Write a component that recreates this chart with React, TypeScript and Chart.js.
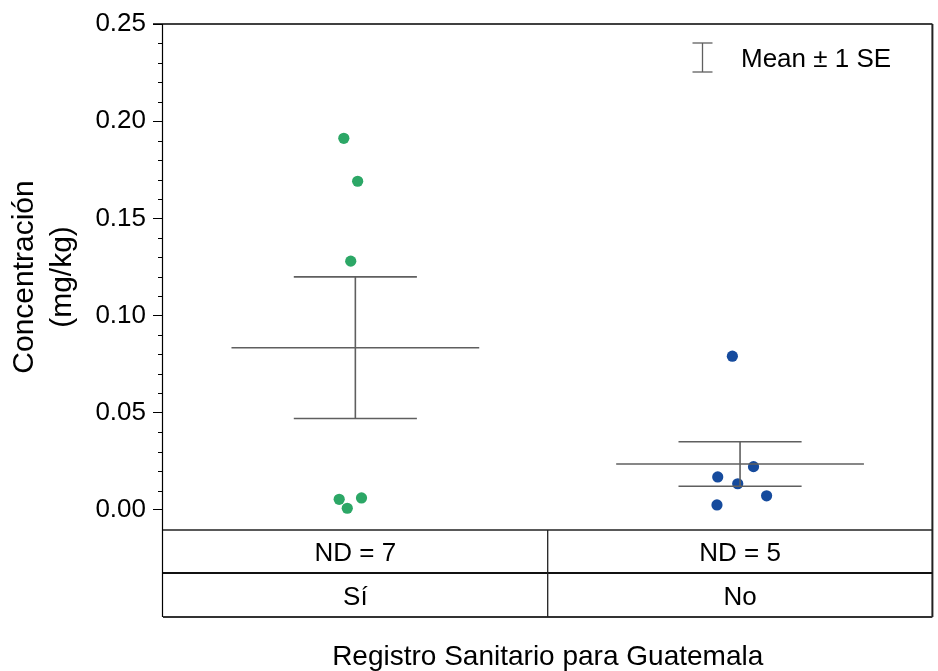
import { useEffect, useRef } from 'react';
import { Chart, registerables } from 'chart.js';

Chart.register(...registerables);

// ---------- data ----------
const categories = ['Sí', 'No'];
const ndLabels = ['ND = 7', 'ND = 5'];
const siValues = [0.1912, 0.1691, 0.128, 0.0055, 0.0062, 0.0009];
const siJitter = [-0.03, 0.006, -0.012, -0.042, 0.016, -0.021];
const noValues = [0.0791, 0.0223, 0.017, 0.0135, 0.0073, 0.0026];
const noJitter = [-0.02, 0.035, -0.058, -0.006, 0.069, -0.06];
const yTickValues = [0, 0.05, 0.1, 0.15, 0.2, 0.25];
const yMinorStep = 0.01;
const yTitle = ['Concentración', '(mg/kg)'];
const xTitle = 'Registro Sanitario para Guatemala';
const legendLabel = 'Mean ± 1 SE';
const pointColors = ['#2ca766', '#164b9d'];

// ---------- style ----------
const FONT = "'Liberation Sans', Arial, sans-serif";
const BAR_COLOR = '#5f5f5f';
const MEAN_HALF = 0.322;
const CAP_HALF = 0.16;
const ROW1 = 43;
const ROW2 = 44;

function stats(vals: number[]) {
  const n = vals.length;
  const m = vals.reduce((a, b) => a + b, 0) / n;
  const sd = Math.sqrt(vals.reduce((a, v) => a + (v - m) * (v - m), 0) / (n - 1));
  return { mean: m, se: sd / Math.sqrt(n) };
}

const overlay = {
  id: 'overlay',
  beforeDraw(chart: any) {
    const { ctx, width, height } = chart;
    ctx.save();
    ctx.fillStyle = '#fff';
    ctx.fillRect(0, 0, width, height);
    ctx.restore();
  },
  afterDatasetsDraw(chart: any) {
    const { ctx, scales } = chart;
    const xs = scales.x;
    const ys = scales.y;
    ctx.save();
    ctx.strokeStyle = BAR_COLOR;
    ctx.lineWidth = 1.6;
    [siValues, noValues].forEach((vals, i) => {
      const { mean, se } = stats(vals);
      const c = 0.5 + i;
      const yM = ys.getPixelForValue(mean);
      const yH = ys.getPixelForValue(mean + se);
      const yL = ys.getPixelForValue(mean - se);
      const line = (x1: number, y1: number, x2: number, y2: number) => {
        ctx.beginPath();
        ctx.moveTo(x1, y1);
        ctx.lineTo(x2, y2);
        ctx.stroke();
      };
      line(xs.getPixelForValue(c - MEAN_HALF), yM, xs.getPixelForValue(c + MEAN_HALF), yM);
      line(xs.getPixelForValue(c - CAP_HALF), yH, xs.getPixelForValue(c + CAP_HALF), yH);
      line(xs.getPixelForValue(c - CAP_HALF), yL, xs.getPixelForValue(c + CAP_HALF), yL);
      const xc = xs.getPixelForValue(c);
      line(xc, yH, xc, yL);
    });
    ctx.restore();
  },
  afterDraw(chart: any) {
    const { ctx, chartArea, scales } = chart;
    const { left, right, top, bottom } = chartArea;
    const ys = scales.y;
    const xs = scales.x;
    const r1 = bottom + ROW1;
    const r2 = r1 + ROW2;
    const mid = (left + right) / 2;
    ctx.save();
    const line = (x1: number, y1: number, x2: number, y2: number, w: number, col = '#000') => {
      ctx.lineWidth = w;
      ctx.strokeStyle = col;
      ctx.beginPath();
      ctx.moveTo(x1, y1);
      ctx.lineTo(x2, y2);
      ctx.stroke();
    };
    // frame
    line(left - 0.5, top, left - 0.5, r2, 1.2);
    line(left - 10, top, right, top, 1.5);
    line(right, top, right, r2, 2, '#222');
    line(left, bottom, right, bottom, 1.3, '#222');
    line(left, r1, right, r1, 2, '#111');
    line(left, r2, right, r2, 2, '#333');
    line(mid, bottom, mid, r2, 1.3, '#222');
    // minor ticks
    for (let v = yMinorStep; v < 0.25 - 1e-9; v += yMinorStep) {
      const k = Math.round(v / yMinorStep);
      if (k % 5 === 0) continue;
      const y = Math.round(ys.getPixelForValue(v)) + 0.5;
      line(left - 5, y, left, y, 1);
    }
    // table text
    ctx.fillStyle = '#000';
    ctx.textAlign = 'center';
    ctx.textBaseline = 'alphabetic';
    ctx.font = `26px ${FONT}`;
    categories.forEach((cat, i) => {
      const cx = xs.getPixelForValue(0.5 + i);
      ctx.fillText(ndLabels[i], cx, (bottom + r1) / 2 + 9.8);
      ctx.fillText(cat, cx, (r1 + r2) / 2 + 10);
    });
    // x title
    ctx.font = `28px ${FONT}`;
    ctx.fillText(xTitle, mid, 665);
    // legend
    const lx = 702.5;
    line(lx, 43, lx, 72, 1.3, BAR_COLOR);
    line(lx - 10, 43, lx + 10, 43, 1.3, BAR_COLOR);
    line(lx - 10, 72, lx + 10, 72, 1.3, BAR_COLOR);
    ctx.fillStyle = '#000';
    ctx.textAlign = 'left';
    ctx.font = `26px ${FONT}`;
    ctx.fillText(legendLabel, 741, 67);
    ctx.restore();
  },
};

export default function App() {
  const ref = useRef<HTMLCanvasElement>(null);
  useEffect(() => {
    document.body.style.margin = '0';
    const canvas = ref.current!;
    const siData = siValues.map((v, i) => ({ x: 0.5 + siJitter[i], y: v }));
    const noData = noValues.map((v, i) => ({ x: 1.5 + noJitter[i], y: v }));
    const chart = new Chart(canvas, {
      type: 'scatter',
      data: {
        datasets: [
          {
            label: categories[0],
            data: siData,
            backgroundColor: pointColors[0],
            borderColor: pointColors[0],
            borderWidth: 0,
            pointRadius: 5.6,
            pointHoverRadius: 5.6,
          },
          {
            label: categories[1],
            data: noData,
            backgroundColor: pointColors[1],
            borderColor: pointColors[1],
            borderWidth: 0,
            pointRadius: 5.6,
            pointHoverRadius: 5.6,
          },
        ],
      },
      options: {
        animation: false,
        responsive: false,
        maintainAspectRatio: false,
        events: [],
        layout: { padding: { top: 24, right: 5, bottom: 141, left: 0 } },
        plugins: { legend: { display: false }, tooltip: { enabled: false } },
        scales: {
          x: { type: 'linear', min: 0, max: 2, display: false },
          y: {
            type: 'linear',
            min: -0.0103,
            max: 0.25,
            afterBuildTicks: (s: any) => {
              s.ticks = yTickValues.map((v) => ({ value: v }));
            },
            afterFit: (s: any) => {
              s.width = 163;
            },
            ticks: {
              callback: (v: any) => Number(v).toFixed(2),
              font: { family: FONT, size: 26 },
              color: '#000',
              padding: 7,
            },
            grid: {
              drawOnChartArea: false,
              drawTicks: true,
              tickLength: 10,
              color: '#000',
              lineWidth: 1,
            },
            border: { display: false },
            title: {
              display: true,
              text: yTitle,
              font: { family: FONT, size: 30, lineHeight: 1.25 },
              color: '#000',
              padding: { top: 6, bottom: 0 },
            },
          },
        },
      },
      plugins: [overlay],
    } as any);
    return () => chart.destroy();
  }, []);
  return (
    <div style={{ width: 938, height: 671 }}>
      <canvas ref={ref} width={938} height={671} />
    </div>
  );
}
